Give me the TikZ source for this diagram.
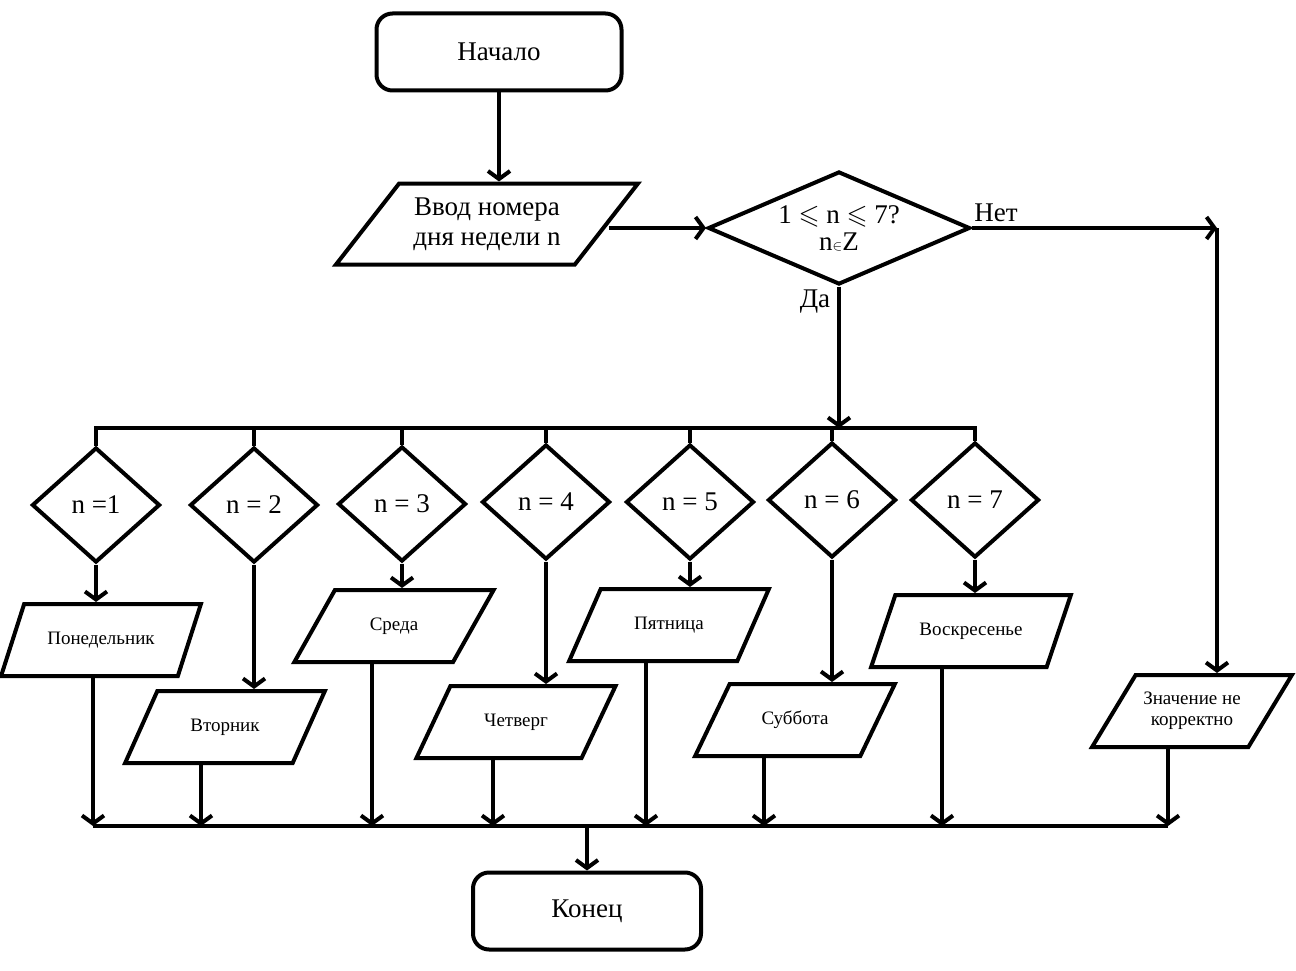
\documentclass[tikz,border=0pt]{standalone}
\usepackage{amssymb}
\usepackage{fontspec}
\setmainfont{Liberation Serif}
\usetikzlibrary{shapes.geometric, arrows.meta}

\begin{document}
\begin{tikzpicture}[
  x=1pt, y=-1pt,
  line width=4pt,
  every node/.style={font=\fontsize{27}{27}\selectfont},
  term/.style={rectangle, draw, rounded corners=16pt, minimum width=245pt, minimum height=77pt},
  io/.style={trapezium, draw, trapezium left angle=45, trapezium right angle=135, trapezium stretches=true, minimum width=200pt, minimum height=72pt, inner sep=0pt, align=center, font=\fontsize{19}{21}\selectfont},
  cond/.style={diamond, draw, minimum width=128pt, minimum height=115pt, inner sep=0pt, align=center},
  lbl/.style={inner sep=0pt},
  arr/.style={-{Straight Barb[length=8pt, width=22pt]}},
]
\useasboundingbox (0,0) rectangle (1296,971);

% Start, input and check
\node[term] (start) at (499,52) {Начало};
\node[io, minimum width=303pt, minimum height=81pt, font=\fontsize{27}{30}\selectfont] (in) at (487,224) {Ввод номера\\дня недели n};
\node[cond, aspect=2.32, minimum width=262pt, minimum height=113pt] (chk) at (839,228) {1 $\leqslant$ n $\leqslant$ 7?\\n{\fontsize{15}{15}\selectfont$\in$}Z};
\node[lbl] (no) at (996,213) {Нет};
\node[lbl] (yes) at (815,302) {Да};
\coordinate (turn) at (1217,228);
\coordinate (split) at (839,428);
\coordinate (join) at (587,826);

% Day checks
\foreach \i/\x/\y/\t in {1/96/505/{n =1}, 2/254/505/{n = 2}, 3/402/504/{n = 3}, 4/546/502/{n = 4}, 5/690/502/{n = 5}, 6/832/500/{n = 6}, 7/975/500/{n = 7}}
  \node[cond] (d\i) at (\x,\y) {\t};

% Day outputs
\foreach \i/\x/\y/\t in {1/101/640/Понедельник, 2/225/727/Вторник, 3/394/626/Среда, 4/516/722/Четверг, 5/669/625/Пятница, 6/795/720/Суббота, 7/971/631/Воскресенье}
  \node[io] (p\i) at (\x,\y) {\t};
\node[io] (err) at (1192,711) {Значение не\\корректно};

\node[term, minimum width=228pt] (end) at (587,911) {Конец};

% Arrows - top
\draw[arr] (start.south) -- (start.south |- in.north);
\draw[arr] (in.east |- chk.west) -- (chk.west);
\draw[arr] (chk.east) -- (turn);
\draw[arr] (turn) -- (turn |- err.north);
\draw[arr] (chk.south) -- (split);

% Branch bus
\draw (d1.north) -- (d1.north |- split) -- (d7.north |- split) -- (d7.north);
\foreach \i in {2,...,6}
  \draw (d\i.north |- split) -- (d\i.north);
\foreach \i in {1,...,7}
  \draw[arr] (d\i.south) -- (d\i.south |- p\i.north);

% Bottom bus
\foreach \i/\s in {p1/-8, p2/-24, p3/-22, p4/-23, p5/-23, p6/-31, p7/-29, err/-24}
  \draw[arr] ([xshift=\s]\i.south) -- ([xshift=\s]\i.south |- join);
\draw ([xshift=-8]p1.south |- join) -- ([xshift=-24]err.south |- join);
\draw[arr] (join) -- (end.north);
\end{tikzpicture}
\end{document}
